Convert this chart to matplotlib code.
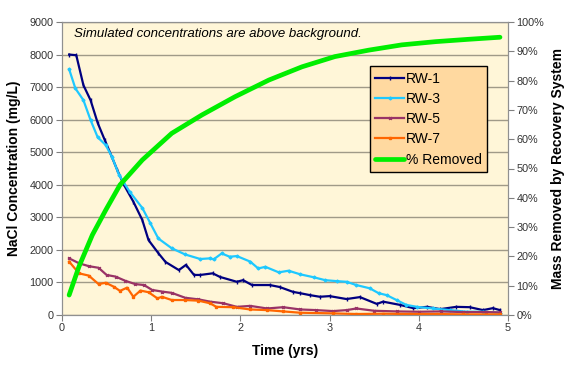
import matplotlib
matplotlib.use("Agg")
import matplotlib.pyplot as plt
from matplotlib.ticker import FuncFormatter

plt.rcParams['font.family'] = ['Liberation Sans', 'DejaVu Sans']

# values
rw1_t = [0.08, 0.16, 0.24, 0.32, 0.40, 0.48, 0.56, 0.62, 0.69, 0.80, 0.90, 0.97, 1.08, 1.16,
         1.31, 1.39, 1.48, 1.55, 1.69, 1.77, 1.96, 2.03, 2.13, 2.33, 2.44, 2.59, 2.67, 2.78,
         2.89, 3.00, 3.19, 3.34, 3.53, 3.60, 3.79, 3.94, 4.09, 4.24, 4.42, 4.57, 4.72, 4.83, 4.91]
rw1 = [8000, 7980, 7060, 6600, 5900, 5370, 4850, 4450, 4020, 3480, 2920, 2300, 1900, 1630,
       1380, 1540, 1230, 1230, 1280, 1170, 1020, 1070, 920, 920, 860, 710, 670, 610,
       560, 580, 490, 550, 340, 410, 310, 210, 250, 180, 250, 240, 150, 210, 150]

rw3_t = [0.08, 0.15, 0.24, 0.32, 0.40, 0.49, 0.56, 0.64, 0.76, 0.90, 0.99, 1.08, 1.23, 1.38,
         1.55, 1.66, 1.70, 1.79, 1.88, 1.96, 2.11, 2.20, 2.28, 2.43, 2.54, 2.67, 2.82, 2.95,
         3.08, 3.19, 3.30, 3.45, 3.55, 3.64, 3.75, 3.86, 3.98, 4.16, 4.35, 4.54, 4.72, 4.91]
rw3 = [7550, 6960, 6600, 5990, 5460, 5220, 4860, 4300, 3780, 3290, 2820, 2350, 2050, 1860,
       1720, 1740, 1710, 1890, 1790, 1810, 1640, 1430, 1480, 1310, 1360, 1250, 1160, 1070,
       1040, 1020, 920, 820, 670, 610, 460, 310, 250, 200, 150, 100, 100, 70]

rw5_t = [0.08, 0.19, 0.30, 0.41, 0.50, 0.60, 0.71, 0.82, 0.92, 1.01, 1.12, 1.23, 1.38, 1.53,
         1.66, 1.81, 1.96, 2.11, 2.30, 2.48, 2.67, 2.85, 3.04, 3.19, 3.30, 3.50, 3.75, 4.00,
         4.25, 4.50, 4.75, 4.91]
rw5 = [1740, 1590, 1500, 1450, 1230, 1180, 1050, 950, 920, 770, 720, 680, 530, 480,
       410, 360, 250, 280, 200, 240, 170, 150, 120, 150, 200, 130, 110, 100,
       110, 90, 90, 80]

rw7_t = [0.08, 0.19, 0.30, 0.41, 0.49, 0.58, 0.65, 0.73, 0.80, 0.88, 0.97, 1.07, 1.12, 1.23,
         1.38, 1.53, 1.66, 1.73, 1.92, 2.11, 2.30, 2.48, 2.67, 3.04, 3.30, 3.60, 3.90, 4.20,
         4.50, 4.91]
rw7 = [1640, 1280, 1210, 950, 990, 870, 740, 840, 560, 750, 700, 510, 560, 460,
       460, 440, 360, 250, 240, 170, 150, 110, 70, 50, 30, 40, 30, 30,
       20, 20]

rem_t = [0.08, 0.19, 0.34, 0.43, 0.49, 0.65, 0.90, 1.23, 1.57, 1.94, 2.32, 2.69, 3.06, 3.44,
         3.81, 4.19, 4.56, 4.91]
removed = [6.8, 16.5, 27.3, 32.4, 35.8, 44.4, 52.9, 62.0, 68.3, 74.5, 80.2, 84.7, 88.2, 90.4,
           92.2, 93.3, 94.1, 94.8]

fig = plt.figure(figsize=(5.76, 3.71), dpi=100)
ax = fig.add_axes([62/576, 1 - 315/371, 446/576, 293/371])
ax.set_facecolor('#FFF6D8')
ax2 = ax.twinx()
ax2.patch.set_visible(False)

l1, = ax.plot(rw1_t, rw1, color='#000080', lw=1.6, marker='|', ms=3, label='RW-1', zorder=3)
l3, = ax.plot(rw3_t, rw3, color='#1EC8FF', lw=1.6, marker='D', ms=1.5, label='RW-3', zorder=3)
l5, = ax.plot(rw5_t, rw5, color='#993366', lw=1.6, marker='x', ms=2, label='RW-5', zorder=3)
l7, = ax.plot(rw7_t, rw7, color='#FF6600', lw=1.6, marker='s', ms=1.5, label='RW-7', zorder=3)
lg, = ax2.plot(rem_t, removed, color='#00EE00', lw=3.4, label='% Removed',
               solid_capstyle='round')

ax.set_xlim(0, 5)
ax.set_ylim(0, 9000)
ax.set_yticks(range(0, 9001, 1000))
ax.set_xticks(range(0, 6))
ax2.set_ylim(0, 100)
ax2.set_yticks(range(0, 101, 10))
ax2.yaxis.set_major_formatter(FuncFormatter(lambda v, p: '%d%%' % v))

ax.grid(axis='y', color='#A09A88', lw=1)
ax.set_axisbelow(True)
for a in (ax, ax2):
    for s in a.spines.values():
        s.set_color('#909090')
    a.tick_params(direction='out', length=4, color='#808080', labelsize=7.8,
                  labelcolor='#333333', pad=2)

ax.set_xlabel('Time (yrs)', fontsize=10, fontweight='bold', labelpad=8)
ax.set_ylabel('NaCl Concentration (mg/L)', fontsize=10, fontweight='bold', labelpad=6)
ax2.set_ylabel('Mass Removed by Recovery System', fontsize=10, fontweight='bold', labelpad=5)

ax.text(0.027, 0.96, 'Simulated concentrations are above background.', transform=ax.transAxes,
        fontsize=9.5, style='italic', va='center', ha='left')

leg = ax2.legend(handles=[l1, l3, l5, l7, lg], loc='upper left',
                 bbox_to_anchor=(0.69, 0.85), fontsize=10, frameon=True, fancybox=False,
                 handlelength=2.1, handletextpad=0.1, labelspacing=0.45,
                 borderpad=0.4, borderaxespad=0)
leg.get_frame().set_facecolor('#FFD9A0')
leg.get_frame().set_edgecolor('black')
leg.get_frame().set_alpha(1)
leg.get_frame().set_linewidth(1)

fig.savefig('out.png', dpi=100)
